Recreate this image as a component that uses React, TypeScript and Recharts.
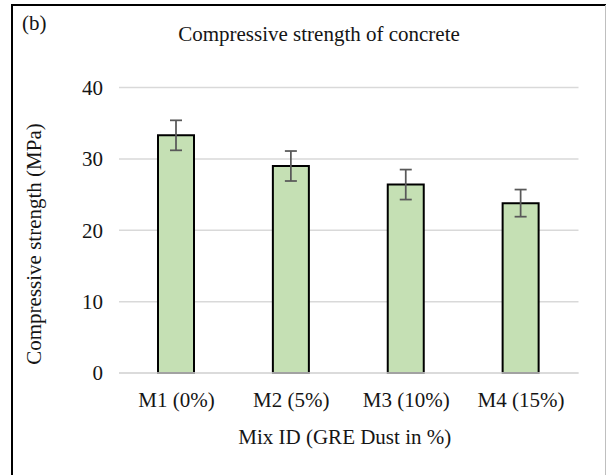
import React from "react";
import { BarChart, Bar, XAxis, YAxis, CartesianGrid, ErrorBar } from "recharts";

const categories = ["M1 (0%)", "M2 (5%)", "M3 (10%)", "M4 (15%)"];
const strengthValues = [33.3, 29.0, 26.4, 23.8];
const strengthErrors = [2.1, 2.1, 2.1, 1.9];
const yTicks = [0, 10, 20, 30, 40];

const chartTitle = "Compressive strength of concrete";
const panelLabel = "(b)";
const xAxisTitle = "Mix ID (GRE Dust in %)";
const yAxisTitle = "Compressive strength (MPa)";

const data = categories.map((name, i) => ({
  name,
  value: strengthValues[i],
  err: strengthErrors[i],
}));

const FONT = "'Liberation Serif', 'Times New Roman', serif";
const TEXT = "#151515";
const FS = 21;

export default function App() {
  return (
    <div style={{ position: "absolute", left: 0, top: 0, width: 606, height: 475, background: "#fff" }}>
      <BarChart
        width={606}
        height={475}
        data={data}
        margin={{ top: 87.5, right: 27.5, left: 12, bottom: 22 }}
        style={{ fontFamily: FONT }}
      >
        <CartesianGrid vertical={false} stroke="#d9d9d9" strokeWidth={1.5} />
        <XAxis
          dataKey="name"
          height={80}
          tickLine={false}
          tickSize={0}
          tickMargin={19}
          axisLine={{ stroke: "#d9d9d9", strokeWidth: 1.5 }}
          tick={{ fill: TEXT, fontSize: FS, fontFamily: FONT }}
          label={{
            value: xAxisTitle,
            position: "insideBottom",
            offset: 9,
            dx: -4,
            fill: TEXT,
            fontSize: FS,
            fontFamily: FONT,
          }}
        />
        <YAxis
          width={107}
          domain={[0, 40]}
          ticks={yTicks}
          axisLine={false}
          tickLine={false}
          tickSize={0}
          tickMargin={16}
          tick={{ fill: TEXT, fontSize: FS, fontFamily: FONT }}
        />
        <Bar
          dataKey="value"
          fill="#c5e0b4"
          stroke="#000000"
          strokeWidth={2}
          barSize={36}
          isAnimationActive={false}
        >
          <ErrorBar dataKey="err" width={6} stroke="#595959" strokeWidth={1.75} direction="y" />
        </Bar>
      </BarChart>
      <svg
        width={606}
        height={475}
        style={{ position: "absolute", left: 0, top: 0, pointerEvents: "none" }}
      >
        <line x1={11} y1={5} x2={606} y2={5} stroke="#000" strokeWidth={2} />
        <line x1={12} y1={4} x2={12} y2={475} stroke="#000" strokeWidth={2} />
        <line x1={605.5} y1={5} x2={605.5} y2={475} stroke="#bfbfbf" strokeWidth={1} />
        <text x={22} y={30} fill={TEXT} fontSize={FS} fontFamily={FONT}>
          {panelLabel}
        </text>
        <text x={319} y={41} fill={TEXT} fontSize={FS} fontFamily={FONT} textAnchor="middle">
          {chartTitle}
        </text>
        <text
          transform="translate(41,244) rotate(-90)"
          fill={TEXT}
          fontSize={FS}
          fontFamily={FONT}
          textAnchor="middle"
        >
          {yAxisTitle}
        </text>
      </svg>
    </div>
  );
}
